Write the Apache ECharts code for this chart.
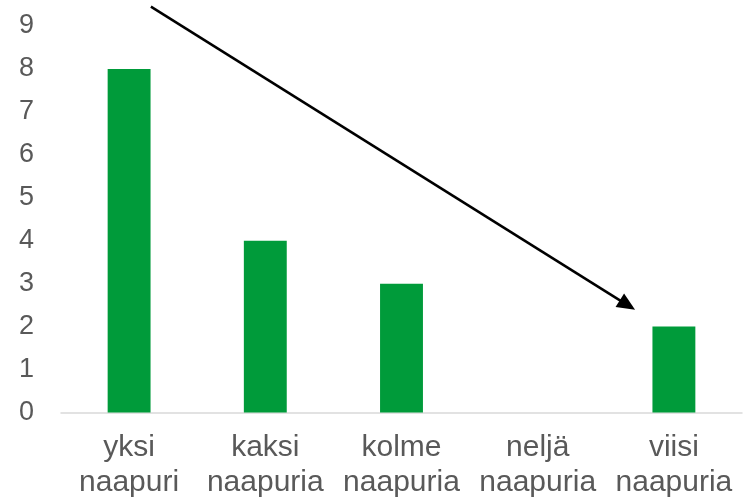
<!DOCTYPE html>
<html>
<head>
<meta charset="utf-8">
<script src="https://cdn.jsdelivr.net/npm/echarts@6/dist/echarts.min.js"></script>
<style>
  html, body { margin: 0; padding: 0; background: #fff; }
  #chart { width: 745px; height: 504px; }
</style>
</head>
<body>
<div id="chart"></div>
<script>
// Number of neighbours per category
const categories = ['yksi\nnaapuri', 'kaksi\nnaapuria', 'kolme\nnaapuria', 'neljä\nnaapuria', 'viisi\nnaapuria'];
const counts = [8, 4, 3, null, 2];
const yTicks = [0, 1, 2, 3, 4, 5, 6, 7, 8, 9];

// Trend arrow, given in data space: [category position, value]
const arrowFrom = [0.16, 9.45];
const arrowTo = [3.715, 2.39];

const chart = echarts.init(document.getElementById('chart'), null, { renderer: 'canvas' });

const textColor = '#595959';
const fontFamily = 'Liberation Sans, Arial, sans-serif';

chart.setOption({
  animation: false,
  grid: { left: 61, right: 3, top: 26, bottom: 91.5, containLabel: false },
  xAxis: {
    type: 'category',
    data: categories,
    axisLine: { lineStyle: { color: '#D9D9D9', width: 1.5 } },
    axisTick: { show: false },
    axisLabel: {
      interval: 0,
      margin: 18,
      color: textColor,
      fontSize: 30,
      lineHeight: 35,
      fontFamily: fontFamily
    }
  },
  yAxis: {
    type: 'value',
    min: yTicks[0],
    max: yTicks[yTicks.length - 1],
    interval: 1,
    splitLine: { show: false },
    axisLine: { show: false },
    axisTick: { show: false },
    axisLabel: {
      margin: 27,
      color: textColor,
      fontSize: 27,
      fontFamily: fontFamily
    }
  },
  series: [{
    type: 'bar',
    data: counts,
    barWidth: '31.5%',
    itemStyle: { color: '#009B3A' }
  }]
});

// Convert a [category position, value] pair to pixels, allowing fractional positions
function toPixel(pt) {
  const x0 = chart.convertToPixel({ xAxisIndex: 0 }, 0);
  const x1 = chart.convertToPixel({ xAxisIndex: 0 }, 1);
  const y0 = chart.convertToPixel({ yAxisIndex: 0 }, 0);
  const y1 = chart.convertToPixel({ yAxisIndex: 0 }, 1);
  return [x0 + (x1 - x0) * pt[0], y0 + (y1 - y0) * pt[1]];
}

const p0 = toPixel(arrowFrom);
const p1 = toPixel(arrowTo);
const dx = p1[0] - p0[0], dy = p1[1] - p0[1];
const len = Math.sqrt(dx * dx + dy * dy);
const ux = dx / len, uy = dy / len;
const headLen = 18, headHalf = 8;
const base = [p1[0] - ux * headLen, p1[1] - uy * headLen];

chart.setOption({
  graphic: [
    {
      type: 'line',
      shape: { x1: p0[0], y1: p0[1], x2: base[0] + ux * 2, y2: base[1] + uy * 2 },
      style: { stroke: '#000', lineWidth: 2.5 },
      silent: true
    },
    {
      type: 'polygon',
      shape: {
        points: [
          p1,
          [base[0] - uy * headHalf, base[1] + ux * headHalf],
          [base[0] + uy * headHalf, base[1] - ux * headHalf]
        ]
      },
      style: { fill: '#000' },
      silent: true
    }
  ]
});
</script>
</body>
</html>
